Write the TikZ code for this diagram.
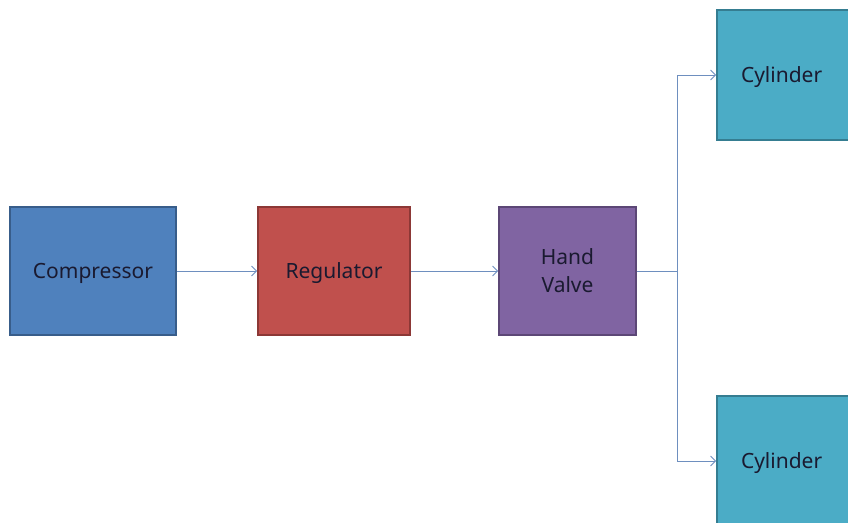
\documentclass[tikz,border=0pt]{standalone}
\usepackage{fontspec}
\setmainfont{Noto Sans}
\usetikzlibrary{arrows.meta}
\definecolor{cBlue}{HTML}{4F81BD}\definecolor{cBlueB}{HTML}{385D8A}
\definecolor{cRed}{HTML}{C0504D}\definecolor{cRedB}{HTML}{8C3836}
\definecolor{cPur}{HTML}{8064A2}\definecolor{cPurB}{HTML}{5C4776}
\definecolor{cCyan}{HTML}{4BACC6}\definecolor{cCyanB}{HTML}{357D91}
\definecolor{cLine}{HTML}{6E8FBF}
\definecolor{cTxt}{HTML}{1A1A30}
\tikzset{
  blk/.style={draw, line width=1.6pt, inner sep=0pt, align=center, text=cTxt, text depth=0pt, font=\fontsize{21}{28}\selectfont},
  conn/.style={draw=cLine, line width=0.9pt},
  arr/.style={conn, -{Straight Barb[length=5pt,width=10pt]}}
}
\begin{document}
\begin{tikzpicture}[x=1pt,y=-1pt]
\useasboundingbox (0,0) rectangle (848,522);
\clip (0,0) rectangle (848,522);
\fill[white] (0,0) rectangle (848,522);
\node[blk, fill=cBlue, draw=cBlueB, minimum width=166pt, minimum height=128pt] (comp) at (93,271) {Compressor};
\node[blk, fill=cRed, draw=cRedB, minimum width=152pt, minimum height=128pt] (reg) at (334,271) {Regulator};
\node[blk, fill=cPur, draw=cPurB, minimum width=137pt, minimum height=128pt] (hv) at (567.5,271) {Hand\\Valve};
\node[blk, fill=cCyan, draw=cCyanB, minimum width=150pt, minimum height=130pt, text width=136pt, align=left] (cyl1) at (792,75) {\hspace*{17pt}Cylinder};
\node[blk, fill=cCyan, draw=cCyanB, minimum width=150pt, minimum height=130pt, text width=136pt, align=left] (cyl2) at (792,461) {\hspace*{17pt}Cylinder};
\coordinate (j) at (677,271);
\draw[arr] (comp) -- (reg);
\draw[arr] (reg) -- (hv);
\draw[conn] (hv) -- (j);
\draw[arr] (j) |- (cyl1.west);
\draw[arr] (j) |- (cyl2.west);
\end{tikzpicture}
\end{document}
